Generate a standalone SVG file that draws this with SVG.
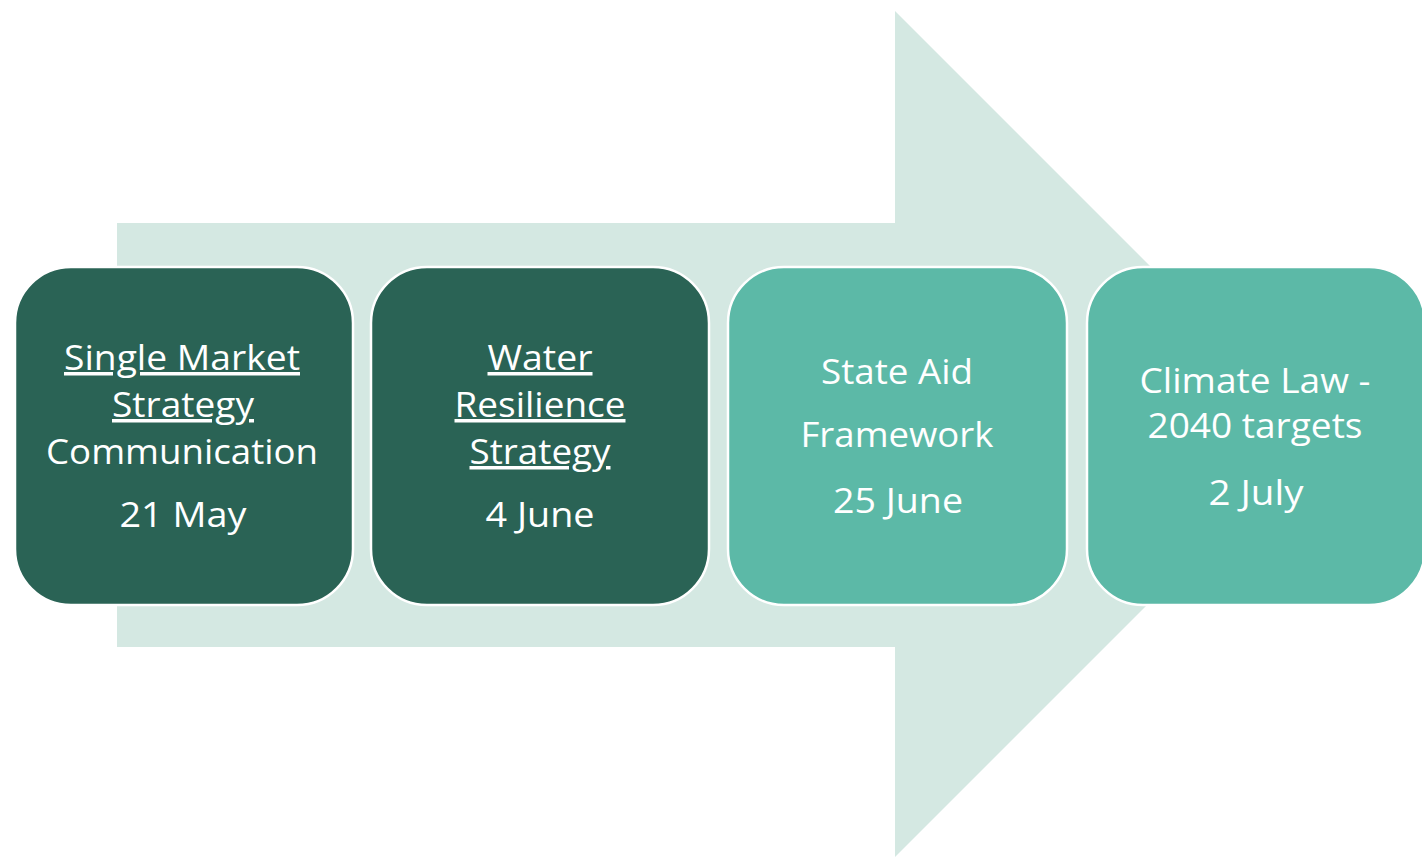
<svg xmlns="http://www.w3.org/2000/svg" width="1422" height="858" viewBox="0 0 1422 858">
<style>
.box{stroke:#ffffff;stroke-width:2.5}
.dark{fill:#2A6355}
.light{fill:#5CB9A7}
.t{font-family:"Open Sans","Noto Sans","Liberation Sans",sans-serif;font-size:35px;fill:#ffffff;text-anchor:middle}
.u{text-decoration:underline}
</style>
<rect width="1422" height="858" fill="#ffffff"/>
<g id="arrow">
<polygon points="117,223 895,223 895,11 1318,434 895,857 895,647 117,647" fill="#D4E8E2"/>
</g>
<g id="connectors"></g>
<g id="node1">
<rect class="box dark" x="15" y="267" width="338" height="338" rx="56" ry="56"/>
<text class="t u" x="182" y="370" textLength="236" lengthAdjust="spacingAndGlyphs">Single Market</text>
<text class="t u" x="183" y="417" textLength="142" lengthAdjust="spacingAndGlyphs">Strategy</text>
<text class="t" x="182" y="464" textLength="272" lengthAdjust="spacingAndGlyphs">Communication</text>
<text class="t" x="183" y="527" textLength="127" lengthAdjust="spacingAndGlyphs">21 May</text>
</g>
<g id="node2">
<rect class="box dark" x="371" y="267" width="338" height="338" rx="56" ry="56"/>
<text class="t u" x="540" y="370" textLength="105" lengthAdjust="spacingAndGlyphs">Water</text>
<text class="t u" x="540" y="417" textLength="171" lengthAdjust="spacingAndGlyphs">Resilience</text>
<text class="t u" x="540" y="464" textLength="141" lengthAdjust="spacingAndGlyphs">Strategy</text>
<text class="t" x="540" y="527" textLength="109" lengthAdjust="spacingAndGlyphs">4 June</text>
</g>
<g id="node3">
<rect class="box light" x="728" y="267" width="339" height="338" rx="56" ry="56"/>
<text class="t" x="897" y="384" textLength="152" lengthAdjust="spacingAndGlyphs">State Aid</text>
<text class="t" x="897" y="447" textLength="193" lengthAdjust="spacingAndGlyphs">Framework</text>
<text class="t" x="898" y="513" textLength="130" lengthAdjust="spacingAndGlyphs">25 June</text>
</g>
<g id="node4">
<rect class="box light" x="1087" y="267" width="338" height="338" rx="56" ry="56"/>
<text class="t" x="1255" y="393" textLength="231" lengthAdjust="spacingAndGlyphs">Climate Law -</text>
<text class="t" x="1255" y="438" textLength="215" lengthAdjust="spacingAndGlyphs">2040 targets</text>
<text class="t" x="1256" y="505" textLength="95" lengthAdjust="spacingAndGlyphs">2 July</text>
</g>
</svg>
